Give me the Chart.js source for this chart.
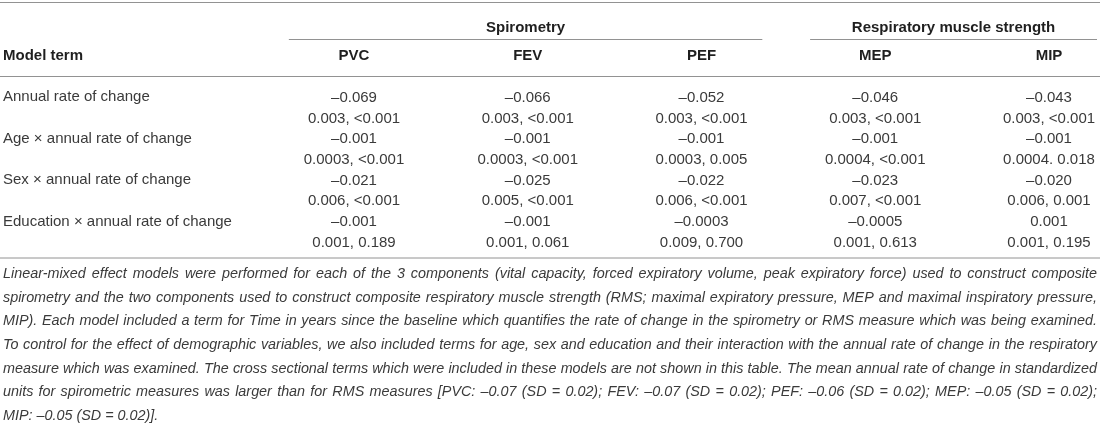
<!DOCTYPE html>
<html>
<head>
<meta charset="utf-8">
<script src="https://cdn.jsdelivr.net/npm/chart.js@4.4.1/dist/chart.umd.min.js"></script>
<style>
  html, body { margin: 0; padding: 0; background: #ffffff; }
  #wrap { width: 1100px; height: 426px; position: relative; }
</style>
</head>
<body>
<div id="wrap"><canvas id="c"></canvas></div>
<script>
// ---------------- DATA ----------------
const modelTerms = [
  'Annual rate of change',
  'Age × annual rate of change',
  'Sex × annual rate of change',
  'Education × annual rate of change'
];
const columns = ['PVC', 'FEV', 'PEF', 'MEP', 'MIP'];
const groupNames = ['Spirometry', 'Respiratory muscle strength'];
const groupFirstCol = [0, 3];
const groupLastCol = [2, 4];
const headerTitle = 'Model term';

// estimates (per column, one per model term)
const estPVC = [-0.069, -0.001, -0.021, -0.001];
const estFEV = [-0.066, -0.001, -0.025, -0.001];
const estPEF = [-0.052, -0.001, -0.022, -0.0003];
const estMEP = [-0.046, -0.001, -0.023, -0.0005];
const estMIP = [-0.043, -0.001, -0.020, 0.001];

// "SE, p" lines (per column, one per model term)
const seP_PVC = ['0.003, <0.001', '0.0003, <0.001', '0.006, <0.001', '0.001, 0.189'];
const seP_FEV = ['0.003, <0.001', '0.0003, <0.001', '0.005, <0.001', '0.001, 0.061'];
const seP_PEF = ['0.003, <0.001', '0.0003, 0.005', '0.006, <0.001', '0.009, 0.700'];
const seP_MEP = ['0.003, <0.001', '0.0004, <0.001', '0.007, <0.001', '0.001, 0.613'];
const seP_MIP = ['0.003, <0.001', '0.0004. 0.018', '0.006, 0.001', '0.001, 0.195'];

const footnoteLines = [
  'Linear-mixed effect models were performed for each of the 3 components (vital capacity, forced expiratory volume, peak expiratory force) used to construct composite',
  'spirometry and the two components used to construct composite respiratory muscle strength (RMS; maximal expiratory pressure, MEP and maximal inspiratory pressure,',
  'MIP). Each model included a term for Time in years since the baseline which quantifies the rate of change in the spirometry or RMS measure which was being examined.',
  'To control for the effect of demographic variables, we also included terms for age, sex and education and their interaction with the annual rate of change in the respiratory',
  'measure which was examined. The cross sectional terms which were included in these models are not shown in this table. The mean annual rate of change in standardized',
  'units for spirometric measures was larger than for RMS measures [PVC: –0.07 (SD = 0.02); FEV: –0.07 (SD = 0.02); PEF: –0.06 (SD = 0.02); MEP: –0.05 (SD = 0.02);',
  'MIP: –0.05 (SD = 0.02)].'
];

// ---------------- BUILD ----------------
const FONT = '"Liberation Sans", Arial, Helvetica, sans-serif';
const estByCol = [estPVC, estFEV, estPEF, estMEP, estMIP];
const sePByCol = [seP_PVC, seP_FEV, seP_PEF, seP_MEP, seP_MIP];

function fmtEst(v) {
  let s = Math.abs(v).toFixed(4);
  while (s.endsWith('0') && s.split('.')[1].length > 3) s = s.slice(0, -1);
  return (v < 0 ? '–' : '') + s;
}

// each model term occupies two sub-rows: estimate, then "SE, p"
const rowLabels = [];
modelTerms.forEach(t => { rowLabels.push(t); rowLabels.push(''); });

const datasets = columns.map((col, c) => {
  const data = [], cellText = [];
  modelTerms.forEach((t, r) => {
    data.push({ x: c, y: 2 * r });     cellText.push(fmtEst(estByCol[c][r]));
    data.push({ x: c, y: 2 * r + 1 }); cellText.push(sePByCol[c][r]);
  });
  return { label: col, data, cellText, pointRadius: 0, pointHoverRadius: 0, showLine: false };
});

const LAYOUT = {
  topRule: 2.5, groupText: 28, groupRule: 39.5, headText: 56, headRule: 76.5,
  bottomRule: 258, noteTop: 274, noteStep: 23.67, noteLeft: 3, noteRight: 1097
};

const cellTextPlugin = {
  id: 'cellText',
  afterDatasetsDraw(chart) {
    const ctx = chart.ctx;
    ctx.save();
    ctx.font = '15px ' + FONT;
    ctx.fillStyle = '#3a3a3a';
    ctx.textAlign = 'center';
    ctx.textBaseline = 'middle';
    chart.data.datasets.forEach((ds, di) => {
      const meta = chart.getDatasetMeta(di);
      meta.data.forEach((pt, j) => ctx.fillText(ds.cellText[j], pt.x, pt.y + 0.5));
    });
    ctx.restore();
  }
};

const decorPlugin = {
  id: 'tableDecor',
  afterDraw(chart) {
    const { ctx, scales: { x } } = chart;
    const W = chart.width;
    ctx.save();
    ctx.strokeStyle = '#929292';
    ctx.lineWidth = 1;
    const rule = (yy, x1, x2) => { ctx.beginPath(); ctx.moveTo(x1, yy); ctx.lineTo(x2, yy); ctx.stroke(); };
    rule(LAYOUT.topRule, 0, W);
    rule(LAYOUT.headRule, 0, W);
    rule(LAYOUT.bottomRule, 0, W);

    ctx.textBaseline = 'middle';
    ctx.fillStyle = '#1f1f1f';
    ctx.font = 'bold 15px ' + FONT;
    const step = x.getPixelForValue(1) - x.getPixelForValue(0);
    groupNames.forEach((g, i) => {
      const x1 = x.getPixelForValue(groupFirstCol[i]) - 0.375 * step;
      const x2 = Math.min(x.getPixelForValue(groupLastCol[i]) + 0.35 * step, W - 3);
      rule(LAYOUT.groupRule, x1, x2);
      ctx.textAlign = 'center';
      ctx.fillText(g, (x1 + x2) / 2, LAYOUT.groupText);
    });
    ctx.textAlign = 'left';
    ctx.fillText(headerTitle, LAYOUT.noteLeft, LAYOUT.headText);
    ctx.textAlign = 'center';
    columns.forEach((c, i) => ctx.fillText(c, x.getPixelForValue(i), LAYOUT.headText));

    // footnote, justified
    ctx.fillStyle = '#3a3a3a';
    const avail = LAYOUT.noteRight - LAYOUT.noteLeft;
    let size = 15;
    ctx.font = 'italic ' + size + 'px ' + FONT;
    let maxW = 0;
    footnoteLines.slice(0, -1).forEach(l => { maxW = Math.max(maxW, ctx.measureText(l).width); });
    if (maxW > avail - 4) size = size * (avail - 4) / maxW;
    ctx.font = 'italic ' + size + 'px ' + FONT;
    ctx.textAlign = 'left';
    footnoteLines.forEach((ln, i) => {
      const yy = LAYOUT.noteTop + i * LAYOUT.noteStep;
      if (i === footnoteLines.length - 1) { ctx.fillText(ln, LAYOUT.noteLeft, yy); return; }
      const words = ln.split(' ');
      const widths = words.map(w => ctx.measureText(w).width);
      const total = widths.reduce((a, b) => a + b, 0);
      const gap = (avail - total) / (words.length - 1);
      let xx = LAYOUT.noteLeft;
      words.forEach((w, k) => { ctx.fillText(w, xx, yy); xx += widths[k] + gap; });
    });
    ctx.restore();
  }
};

new Chart(document.getElementById('c'), {
  type: 'scatter',
  data: { datasets },
  options: {
    responsive: true,
    maintainAspectRatio: false,
    animation: false,
    events: [],
    layout: { padding: { left: 3, right: 51, top: 87, bottom: 173.5 } },
    plugins: { legend: { display: false }, tooltip: { enabled: false } },
    scales: {
      x: { type: 'linear', min: 0, max: columns.length - 1, display: false },
      y: {
        type: 'linear', reverse: true, min: -0.5, max: rowLabels.length - 0.5,
        afterBuildTicks: s => { s.ticks = rowLabels.map((l, i) => ({ value: i })); },
        afterFit: s => { s.width = 351; },
        grid: { display: false },
        border: { display: false },
        ticks: {
          autoSkip: false, padding: 0, crossAlign: 'far',
          color: '#3a3a3a', font: { family: FONT, size: 15 },
          callback: v => rowLabels[v] || ''
        }
      }
    }
  },
  plugins: [cellTextPlugin, decorPlugin]
});
</script>
</body>
</html>
